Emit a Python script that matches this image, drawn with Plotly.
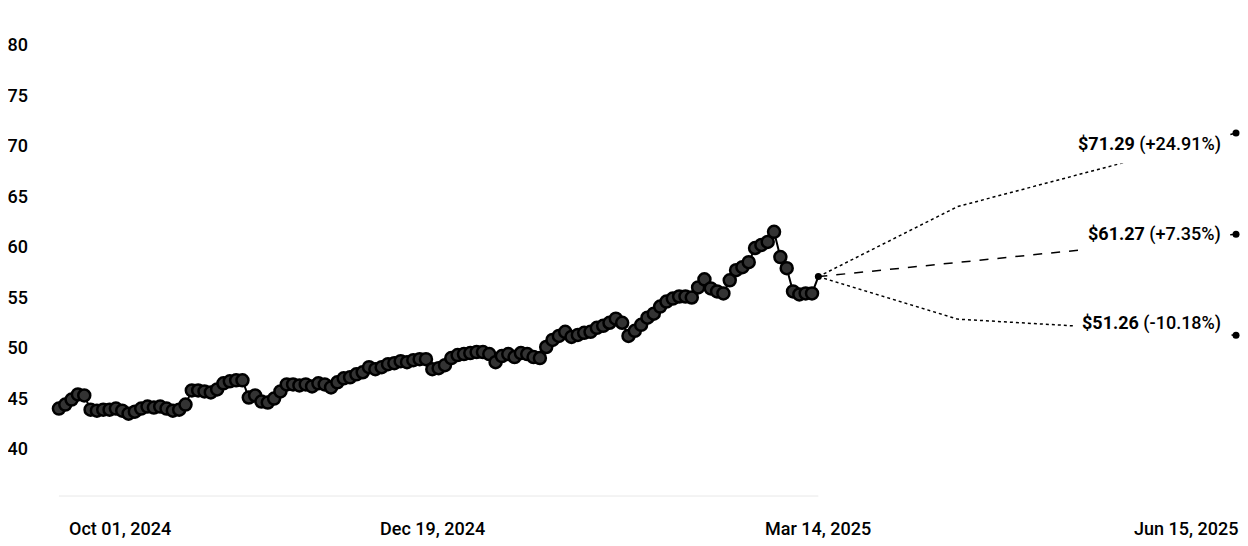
import numpy as np
import pandas as pd
import plotly.graph_objects as go

# Trading-day closes, Sep 27 2024 .. Mar 14 2025
HISTORY_START = "2024-09-27"
HISTORY_END = "2025-03-14"
history_prices = [
    44.0, 44.4, 44.9, 45.4, 45.3, 43.9, 43.8, 43.9, 43.9, 44.0,
    43.8, 43.5, 43.7, 44.0, 44.2, 44.1, 44.2, 44.0, 43.8, 43.9,
    44.4, 45.8, 45.8, 45.7, 45.6, 45.9, 46.5, 46.7, 46.8, 46.8,
    45.1, 45.3, 44.7, 44.6, 45.0, 45.7, 46.4, 46.4, 46.3, 46.4,
    46.2, 46.5, 46.4, 46.1, 46.6, 47.0, 47.1, 47.4, 47.6, 48.1,
    47.9, 48.1, 48.4, 48.5, 48.7, 48.6, 48.8, 48.9, 48.9, 47.9,
    48.0, 48.3, 49.0, 49.3, 49.4, 49.5, 49.6, 49.6, 49.4, 48.6,
    49.2, 49.4, 49.1, 49.5, 49.4, 49.1, 49.0, 50.1, 50.8, 51.2,
    51.6, 51.1, 51.3, 51.5, 51.6, 52.0, 52.2, 52.5, 52.9, 52.5,
    51.2, 51.7, 52.3, 53.0, 53.4, 54.1, 54.6, 54.9, 55.1, 55.1,
    55.0, 56.0, 56.8, 55.9, 55.6, 55.4, 56.7, 57.7, 58.0, 58.5,
    59.9, 60.2, 60.5, 61.5, 59.0, 57.9, 55.6, 55.3, 55.4, 55.4,
    57.07,
]

# Forecast scenarios
forecast_dates = ["2025-03-14", "2025-04-15", "2025-06-15"]
forecast_mid = [64.0, 58.45, 52.86]
forecast_end = [71.29, 61.27, 51.26]
forecast_change = ["+24.91%", "+7.35%", "-10.18%"]
forecast_dash = ["dot", "dash", "dot"]
label_yshift = [-11, 0, 12]

# Axis ticks
tick_dates = ["2024-10-01", "2024-12-19", "2025-03-14", "2025-06-15"]
tick_text = ["Oct 01, 2024", "Dec 19, 2024", "Mar 14, 2025", "Jun 15, 2025"]
tick_anchor = ["left", "center", "center", "right"]
tick_xshift = [-5, 0, 0, 4]
y_ticks = [40, 45, 50, 55, 60, 65, 70, 75, 80]

FONT = "Roboto, Arial, sans-serif"


def bday_index(d):
    # x position = number of weekdays since the first close
    return int(np.busday_count(HISTORY_START, d))


history_dates = pd.bdate_range(HISTORY_START, HISTORY_END)
assert len(history_dates) == len(history_prices)
history_x = [bday_index(d.date()) for d in history_dates]

fig = go.Figure()

# historical price line with bead markers (last close shown as small dot)
marker_sizes = [12] * (len(history_prices) - 1) + [0]
fig.add_trace(
    go.Scatter(
        x=history_x,
        y=history_prices,
        mode="lines+markers",
        line=dict(color="black", width=2),
        marker=dict(
            size=marker_sizes,
            opacity=1,  # size array would otherwise default to 0.7
            color="#333333",
            line=dict(color="black", width=2.5),
        ),
        customdata=[d.strftime("%b %d, %Y") for d in history_dates],
        hovertemplate="%{customdata}<br>$%{y:.2f}<extra></extra>",
    )
)

# forecast scenario lines
fx = [bday_index(d) for d in forecast_dates]
last_close = history_prices[-1]
for mid, end, dash in zip(forecast_mid, forecast_end, forecast_dash):
    fig.add_trace(
        go.Scatter(
            x=fx,
            y=[last_close, mid, end],
            mode="lines",
            line=dict(color="black", width=1.5, dash=dash),
            hoverinfo="skip",
        )
    )

# end point dots
fig.add_trace(
    go.Scatter(
        x=[fx[0]] + [fx[-1]] * len(forecast_end),
        y=[last_close] + forecast_end,
        mode="markers",
        marker=dict(size=7, color="black"),
        cliponaxis=False,
        hoverinfo="skip",
    )
)

# scenario labels
for end, chg, ys in zip(forecast_end, forecast_change, label_yshift):
    fig.add_annotation(
        x=fx[-1],
        y=end,
        xref="x",
        yref="y",
        text=f"<b>${end:.2f}</b> ({chg})",
        showarrow=False,
        xanchor="right",
        yanchor="middle",
        xshift=-6,
        yshift=ys,
        bgcolor="white",
        borderpad=8,
        font=dict(family=FONT, size=18, color="black", weight=500),
    )

# x tick labels
for d, txt, anc, xs in zip(tick_dates, tick_text, tick_anchor, tick_xshift):
    fig.add_annotation(
        x=bday_index(d),
        y=0,
        xref="x",
        yref="paper",
        text=txt,
        showarrow=False,
        xanchor=anc,
        yanchor="top",
        xshift=xs,
        yshift=-20,
        font=dict(family=FONT, size=18, color="black", weight=500),
    )

# baseline under the historical section
fig.add_shape(
    type="line",
    xref="x",
    yref="paper",
    x0=history_x[0],
    x1=history_x[-1],
    y0=0,
    y1=0,
    line=dict(color="#e8e8e8", width=1),
    layer="below",
)

fig.update_layout(
    width=1232,
    height=530,
    margin=dict(l=19, r=0, t=0, b=42),
    paper_bgcolor="white",
    plot_bgcolor="white",
    showlegend=False,
    font=dict(family=FONT, size=17, color="black"),
    xaxis=dict(
        range=[-4.73, 186.63],
        showgrid=False,
        zeroline=False,
        showline=False,
        showticklabels=False,
        ticks="",
    ),
    yaxis=dict(
        range=[35.35, 83.66],
        tickvals=y_ticks,
        showgrid=False,
        zeroline=False,
        showline=False,
        ticks="",
        tickfont=dict(family=FONT, size=18, color="black", weight=500),
    ),
)

fig.write_html("out.html")
